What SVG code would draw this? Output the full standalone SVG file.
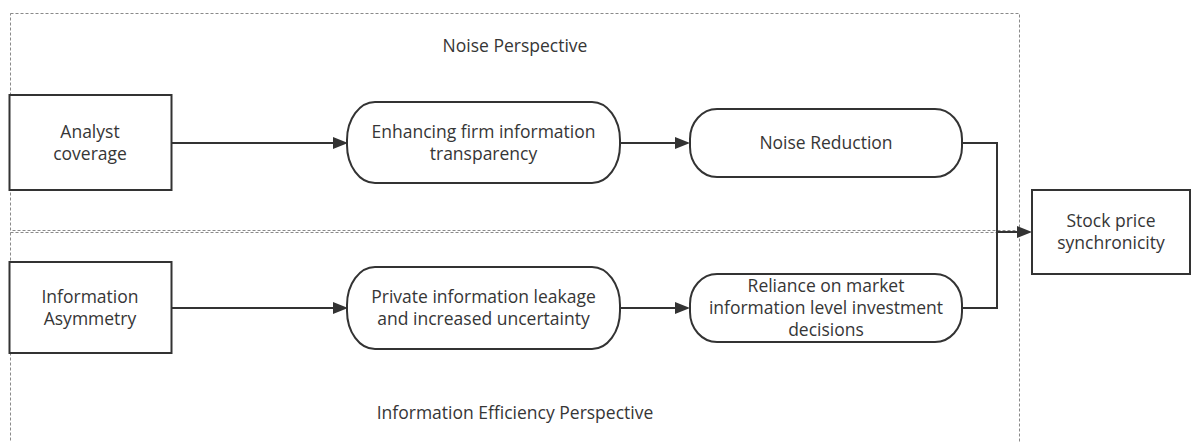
<svg xmlns="http://www.w3.org/2000/svg" width="1191" height="442" viewBox="0 0 1191 442">
<style>
.zone{fill:none;stroke:#8a8a8a;stroke-width:1;stroke-dasharray:3 2}
.box{fill:#fff;stroke:#333;stroke-width:2}
.t{font-family:"Open Sans","Noto Sans",sans-serif;font-size:17.5px;fill:#363636;text-anchor:middle}
.c{fill:none;stroke:#333;stroke-width:2}
</style>
<defs>
<marker id="arr" markerWidth="15" markerHeight="12" refX="10" refY="6" orient="auto" markerUnits="userSpaceOnUse">
<path d="M0,0 L15,6 L0,12 z" fill="#333"/>
</marker>
</defs>
<rect width="1191" height="442" fill="#fff"/>
<g id="zone-noise">
<rect class="zone" x="10.5" y="13.5" width="1009" height="217"/>
<text class="t" x="515" y="52">Noise Perspective</text>
</g>
<g id="zone-efficiency">
<rect class="zone" x="10.5" y="232.5" width="1009" height="230"/>
<text class="t" x="515" y="419">Information Efficiency Perspective</text>
</g>
<g id="connectors">
<path class="c" d="M171.5,143 H343" marker-end="url(#arr)"/>
<path class="c" d="M620,143 H685" marker-end="url(#arr)"/>
<path class="c" d="M171.5,308 H343" marker-end="url(#arr)"/>
<path class="c" d="M620,308 H685" marker-end="url(#arr)"/>
<path class="c" d="M962,143 H997 V232"/>
<path class="c" d="M962,308 H997 V232"/>
<path class="c" d="M997,232 H1027" marker-end="url(#arr)"/>
</g>
<g id="analyst">
<rect class="box" x="9.5" y="95" width="162" height="95"/>
<text class="t" x="90" y="138">Analyst</text>
<text class="t" x="90" y="160">coverage</text>
</g>
<g id="asymmetry">
<rect class="box" x="9.5" y="262" width="162" height="91"/>
<text class="t" x="90" y="303">Information</text>
<text class="t" x="90" y="325">Asymmetry</text>
</g>
<g id="transparency">
<rect class="box" x="347" y="102" width="273" height="81" rx="28" ry="38"/>
<text class="t" x="483.5" y="138">Enhancing firm information</text>
<text class="t" x="483.5" y="160">transparency</text>
</g>
<g id="noise-reduction">
<rect class="box" x="690" y="109" width="272" height="68" rx="27" ry="30"/>
<text class="t" x="826" y="149">Noise Reduction</text>
</g>
<g id="leakage">
<rect class="box" x="347" y="267" width="273" height="82" rx="28" ry="38"/>
<text class="t" x="483.5" y="303">Private information leakage</text>
<text class="t" x="483.5" y="325">and increased uncertainty</text>
</g>
<g id="reliance">
<rect class="box" x="690" y="274" width="272" height="68" rx="27" ry="30"/>
<text class="t" x="826" y="292">Reliance on market</text>
<text class="t" x="826" y="314">information level investment</text>
<text class="t" x="826" y="336">decisions</text>
</g>
<g id="synchronicity">
<rect class="box" x="1032" y="190" width="158" height="84"/>
<text class="t" x="1111" y="227">Stock price</text>
<text class="t" x="1111" y="249">synchronicity</text>
</g>
</svg>
